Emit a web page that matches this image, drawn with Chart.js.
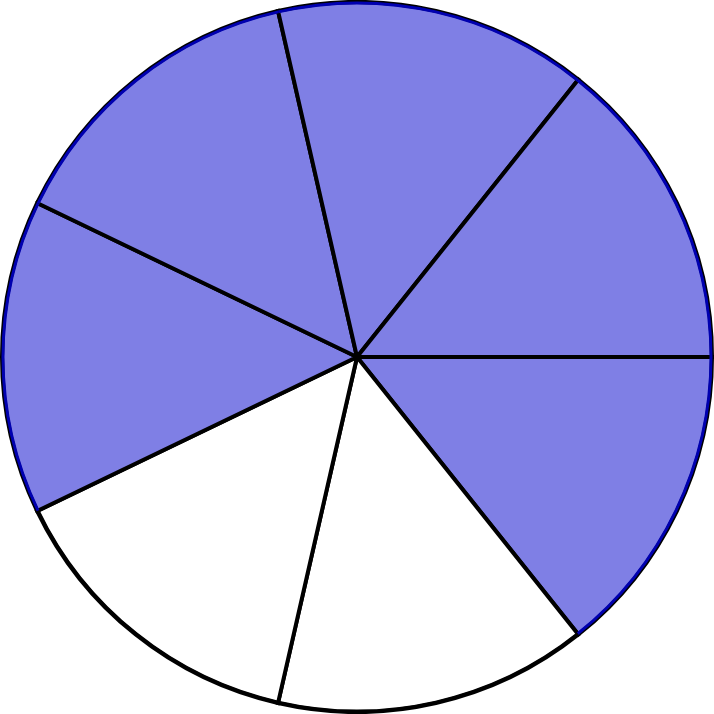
<!DOCTYPE html>
<html>
<head>
<meta charset="utf-8">
<script src="https://cdn.jsdelivr.net/npm/chart.js@4"></script>
<style>
html,body{margin:0;padding:0;background:#fff;}
#wrap{width:714px;height:714px;}
</style>
</head>
<body>
<div id="wrap"><canvas id="c"></canvas></div>
<script>
const labels = ['1','2','3','4','5','6','7'];
const values = [1,1,1,1,1,1,1];
const shaded = [true,false,false,true,true,true,true];
const fillShaded = '#7f7fe5';
const fillPlain = '#ffffff';
const arcEdgeShaded = '#0000b0';
const arcEdgePlain = '#000000';

const arcEdgePlugin = {
  id: 'arcEdge',
  afterDatasetsDraw(chart) {
    const meta = chart.getDatasetMeta(0);
    const ctx = chart.ctx;
    meta.data.forEach((arc, i) => {
      const p = arc.getProps(['x','y','startAngle','endAngle','outerRadius'], true);
      ctx.save();
      ctx.beginPath();
      ctx.arc(p.x, p.y, p.outerRadius - 1, p.startAngle, p.endAngle);
      ctx.lineWidth = 3;
      ctx.strokeStyle = shaded[i] ? arcEdgeShaded : arcEdgePlain;
      ctx.stroke();
      ctx.restore();
    });
  }
};

new Chart(document.getElementById('c'), {
  type: 'pie',
  data: {
    labels: labels,
    datasets: [{
      data: values,
      backgroundColor: shaded.map(s => s ? fillShaded : fillPlain),
      borderColor: '#000000',
      borderWidth: 4,
      borderJoinStyle: 'miter'
    }]
  },
  options: {
    responsive: true,
    maintainAspectRatio: false,
    animation: false,
    rotation: 90,
    layout: { padding: 0 },
    plugins: { legend: { display: false }, tooltip: { enabled: false } }
  },
  plugins: [arcEdgePlugin]
});
</script>
</body>
</html>
